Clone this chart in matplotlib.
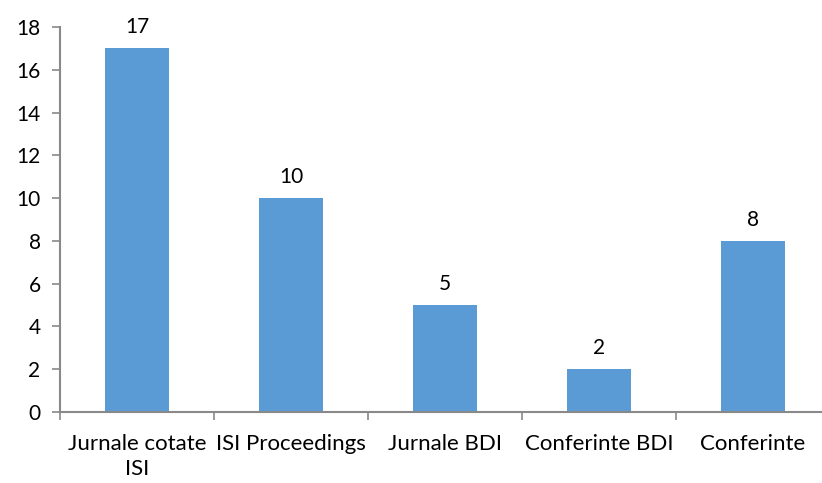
import matplotlib
matplotlib.use("Agg")
import matplotlib.pyplot as plt
import numpy as np

categories = ["Jurnale cotate\nISI", "ISI Proceedings", "Jurnale BDI", "Conferinte BDI", "Conferinte"]
values = [17, 10, 5, 2, 8]
yticks = [0, 2, 4, 6, 8, 10, 12, 14, 16, 18]

plt.rcParams['font.family'] = ['Lato', 'DejaVu Sans']

fig = plt.figure(figsize=(8.22, 4.83), dpi=100)
ax = fig.add_axes([60/822, 71/483, 770/822, 385/483])

x = np.arange(len(categories))
bars = ax.bar(x, values, width=0.41, color="#5B9BD5", zorder=2)
for xi, v in zip(x, values):
    ax.annotate(str(v), (xi, v), xytext=(0, 8), textcoords="offset points",
                ha="center", va="bottom", fontsize=15, color="black")

ax.set_xlim(-0.5, len(categories) - 0.5)
ax.set_ylim(0, 18)
ax.set_yticks(yticks)
ax.set_yticklabels([str(t) for t in yticks], fontsize=15)
ax.set_xticks(x)
ax.set_xticklabels(categories, fontsize=16, linespacing=1.3)
ax.set_xticks(np.arange(-0.5, len(categories)), minor=True)
ax.tick_params(axis='x', which='major', length=0, pad=16)
ax.tick_params(axis='x', which='minor', length=6, color="#898989", width=1.2)
ax.tick_params(axis='y', length=6, color="#898989", width=1.2, pad=8)

for s in ["top", "right"]:
    ax.spines[s].set_visible(False)
for s in ["left", "bottom"]:
    ax.spines[s].set_color("#898989")
    ax.spines[s].set_linewidth(1.5)

fig.savefig("out.png", dpi=100)
